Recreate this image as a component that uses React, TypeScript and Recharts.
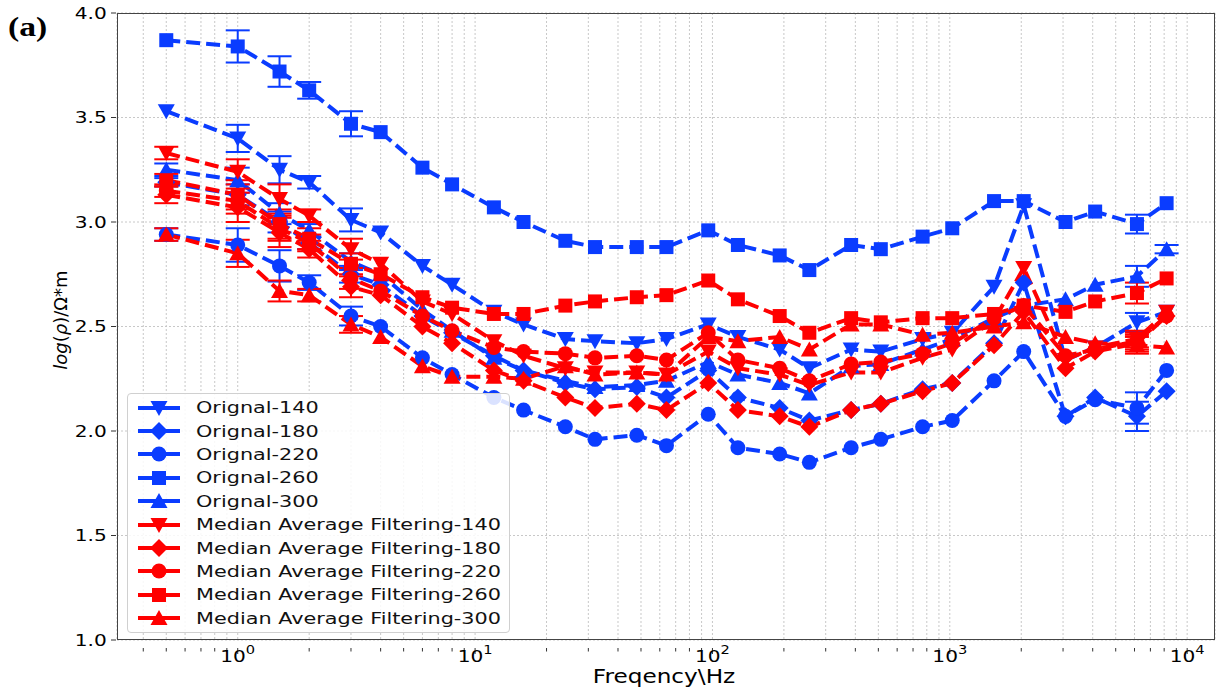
import React from 'react';
import { CartesianGrid, ErrorBar, Line, LineChart, XAxis, YAxis } from 'recharts';

const FREQ = [0.5, 1, 1.5, 2, 3, 4, 6, 8, 12, 16, 24, 32, 48, 64, 96, 128, 192, 256, 384, 512, 768, 1024, 1536, 2048, 3072, 4096, 6144, 8192];

const ORIG_140 = [3.53, 3.4, 3.25, 3.19, 3.01, 2.95, 2.79, 2.7, 2.57, 2.51, 2.44, 2.43, 2.42, 2.44, 2.51, 2.45, 2.39, 2.3, 2.39, 2.38, 2.44, 2.47, 2.69, 3.08, 2.34, 2.4, 2.52, 2.57];
const ORIG_180 = [3.19, 3.13, 3.0, 2.9, 2.75, 2.7, 2.55, 2.47, 2.36, 2.29, 2.23, 2.2, 2.21, 2.16, 2.29, 2.16, 2.11, 2.05, 2.1, 2.13, 2.2, 2.23, 2.42, 2.71, 2.07, 2.16, 2.07, 2.19];
const ORIG_220 = [2.94, 2.89, 2.79, 2.71, 2.55, 2.5, 2.35, 2.27, 2.16, 2.1, 2.02, 1.96, 1.98, 1.93, 2.08, 1.92, 1.89, 1.85, 1.92, 1.96, 2.02, 2.05, 2.24, 2.38, 2.07, 2.15, 2.11, 2.29];
const ORIG_260 = [3.87, 3.84, 3.72, 3.63, 3.47, 3.43, 3.26, 3.18, 3.07, 3.0, 2.91, 2.88, 2.88, 2.88, 2.96, 2.89, 2.84, 2.77, 2.89, 2.87, 2.93, 2.97, 3.1, 3.1, 3.0, 3.05, 2.99, 3.09];
const ORIG_300 = [3.25, 3.2, 3.04, 2.96, 2.81, 2.75, 2.58, 2.48, 2.35, 2.29, 2.24, 2.21, 2.22, 2.24, 2.33, 2.27, 2.23, 2.18, 2.31, 2.32, 2.39, 2.44, 2.54, 2.6, 2.63, 2.7, 2.74, 2.87];
const MAF_140 = [3.33, 3.24, 3.11, 3.03, 2.87, 2.8, 2.62, 2.56, 2.43, 2.36, 2.3, 2.28, 2.28, 2.27, 2.38, 2.3, 2.27, 2.22, 2.28, 2.28, 2.35, 2.39, 2.53, 2.78, 2.34, 2.4, 2.44, 2.57];
const MAF_180 = [3.13, 3.07, 2.95, 2.87, 2.69, 2.65, 2.5, 2.42, 2.29, 2.24, 2.16, 2.11, 2.13, 2.1, 2.23, 2.1, 2.07, 2.02, 2.1, 2.13, 2.19, 2.23, 2.41, 2.57, 2.3, 2.38, 2.42, 2.55];
const MAF_220 = [3.15, 3.1, 2.97, 2.9, 2.73, 2.67, 2.55, 2.48, 2.4, 2.38, 2.37, 2.35, 2.36, 2.34, 2.47, 2.34, 2.3, 2.24, 2.32, 2.33, 2.37, 2.42, 2.54, 2.6, 2.36, 2.39, 2.43, 2.55];
const MAF_260 = [3.2, 3.13, 2.99, 2.92, 2.8, 2.75, 2.64, 2.59, 2.56, 2.56, 2.6, 2.62, 2.64, 2.65, 2.72, 2.63, 2.55, 2.47, 2.54, 2.52, 2.54, 2.54, 2.56, 2.6, 2.57, 2.62, 2.66, 2.73];
const MAF_300 = [2.94, 2.85, 2.67, 2.65, 2.51, 2.45, 2.31, 2.26, 2.26, 2.25, 2.31, 2.27, 2.28, 2.27, 2.45, 2.43, 2.45, 2.39, 2.51, 2.51, 2.46, 2.47, 2.5, 2.52, 2.45, 2.42, 2.41, 2.4];

// error bar half-widths (0 = no visible bar)
const ORIG_140_ERR = [0, 0.065, 0.065, 0.03, 0.055, 0, 0, 0, 0, 0, 0, 0, 0, 0, 0, 0, 0, 0, 0, 0, 0, 0, 0, 0, 0, 0, 0.045, 0];
const ORIG_180_ERR = [0.02, 0.05, 0.05, 0.03, 0.04, 0, 0, 0, 0, 0, 0, 0, 0, 0, 0, 0, 0, 0, 0, 0, 0, 0, 0, 0, 0, 0, 0.07, 0];
const ORIG_220_ERR = [0.03, 0.08, 0.075, 0.035, 0.045, 0, 0, 0, 0, 0, 0, 0, 0, 0, 0, 0, 0, 0, 0, 0, 0, 0, 0, 0, 0, 0, 0.075, 0];
const ORIG_260_ERR = [0, 0.077, 0.073, 0.04, 0.06, 0, 0, 0, 0, 0, 0, 0, 0, 0, 0, 0, 0, 0, 0, 0, 0, 0, 0, 0, 0, 0, 0.045, 0];
const ORIG_300_ERR = [0.03, 0.06, 0.05, 0.03, 0.04, 0, 0, 0, 0, 0, 0, 0, 0, 0, 0, 0, 0, 0, 0, 0, 0, 0, 0, 0, 0, 0, 0.05, 0.02];
const MAF_140_ERR = [0.03, 0.06, 0.07, 0.03, 0.05, 0, 0, 0, 0, 0, 0, 0, 0, 0, 0, 0, 0, 0, 0, 0, 0, 0, 0, 0, 0, 0, 0.04, 0];
const MAF_180_ERR = [0.04, 0.07, 0.07, 0.04, 0.05, 0, 0, 0, 0, 0, 0, 0, 0, 0, 0, 0, 0, 0, 0, 0, 0, 0, 0, 0, 0, 0, 0.04, 0];
const MAF_220_ERR = [0.03, 0.06, 0.06, 0.04, 0.05, 0, 0, 0, 0, 0, 0, 0, 0, 0, 0, 0, 0, 0, 0, 0, 0, 0, 0, 0, 0, 0, 0.04, 0];
const MAF_260_ERR = [0.03, 0.07, 0.07, 0.05, 0.05, 0, 0, 0, 0, 0, 0, 0, 0, 0, 0, 0, 0, 0, 0, 0, 0, 0, 0, 0, 0, 0, 0.05, 0];
const MAF_300_ERR = [0.03, 0.065, 0.05, 0.03, 0.04, 0, 0, 0, 0, 0, 0, 0, 0, 0, 0, 0, 0, 0, 0, 0, 0, 0, 0, 0, 0, 0, 0.04, 0];

const Y_TICKS = [1.0, 1.5, 2.0, 2.5, 3.0, 3.5, 4.0];
const X_TICKS = [
  0.4, 0.5, 0.6, 0.7, 0.8, 0.9,
  1, 2, 3, 4, 5, 6, 7, 8, 9,
  10, 20, 30, 40, 50, 60, 70, 80, 90,
  100, 200, 300, 400, 500, 600, 700, 800, 900,
  1000, 2000, 3000, 4000, 5000, 6000, 7000, 8000, 9000,
  10000,
];

const BLUE = '#0a3cff';
const RED = '#ff0000';
const FONT = '"DejaVu Sans", sans-serif';
// the source figure is stretched sideways, so text is widened to match
const STRETCH = 1.22;

type Shape = 'v' | 'D' | 'o' | 's' | '^';

const SERIES: { key: string; name: string; values: number[]; err: number[]; color: string; shape: Shape }[] = [
  { key: 'o140', name: 'Orignal-140', values: ORIG_140, err: ORIG_140_ERR, color: BLUE, shape: 'v' },
  { key: 'o180', name: 'Orignal-180', values: ORIG_180, err: ORIG_180_ERR, color: BLUE, shape: 'D' },
  { key: 'o220', name: 'Orignal-220', values: ORIG_220, err: ORIG_220_ERR, color: BLUE, shape: 'o' },
  { key: 'o260', name: 'Orignal-260', values: ORIG_260, err: ORIG_260_ERR, color: BLUE, shape: 's' },
  { key: 'o300', name: 'Orignal-300', values: ORIG_300, err: ORIG_300_ERR, color: BLUE, shape: '^' },
  { key: 'm140', name: 'Median Average Filtering-140', values: MAF_140, err: MAF_140_ERR, color: RED, shape: 'v' },
  { key: 'm180', name: 'Median Average Filtering-180', values: MAF_180, err: MAF_180_ERR, color: RED, shape: 'D' },
  { key: 'm220', name: 'Median Average Filtering-220', values: MAF_220, err: MAF_220_ERR, color: RED, shape: 'o' },
  { key: 'm260', name: 'Median Average Filtering-260', values: MAF_260, err: MAF_260_ERR, color: RED, shape: 's' },
  { key: 'm300', name: 'Median Average Filtering-300', values: MAF_300, err: MAF_300_ERR, color: RED, shape: '^' },
];

const data = FREQ.map((f, i) => {
  const row: any = { f };
  SERIES.forEach(s => {
    row[s.key] = s.values[i];
    row[s.key + 'Err'] = s.err[i];
  });
  return row;
});

function Marker({ shape, cx, cy, color }: { shape: Shape; cx: number; cy: number; color: string }) {
  switch (shape) {
    case 's':
      return <rect x={cx - 7} y={cy - 7} width={14} height={14} fill={color} />;
    case 'o':
      return <circle cx={cx} cy={cy} r={7.5} fill={color} />;
    case 'D':
      return <polygon points={`${cx},${cy - 9} ${cx + 9},${cy} ${cx},${cy + 9} ${cx - 9},${cy}`} fill={color} />;
    case 'v':
      return <polygon points={`${cx - 8.5},${cy - 7} ${cx + 8.5},${cy - 7} ${cx},${cy + 8}`} fill={color} />;
    default:
      return <polygon points={`${cx - 8.5},${cy + 7} ${cx + 8.5},${cy + 7} ${cx},${cy - 8}`} fill={color} />;
  }
}

function XTick(props: any) {
  const { x, y, payload } = props;
  const lg = Math.log10(payload.value);
  const major = Math.abs(lg - Math.round(lg)) < 1e-6;
  return (
    <g>
      <line x1={x} x2={x} y1={y} y2={y + (major ? 6 : 3.5)} stroke="#333" strokeWidth={1} />
      {major && (
        <text
          x={x}
          y={y + 14}
          textAnchor="middle"
          fontFamily={FONT}
          fontSize={16.5}
          fill="#000"
          transform={`translate(${x} 0) scale(${STRETCH} 1) translate(${-x} 0)`}
        >
          10
          <tspan dy={-8} fontSize={12}>{Math.round(lg)}</tspan>
        </text>
      )}
    </g>
  );
}

function YTick(props: any) {
  const { x, y, payload } = props;
  return (
    <g>
      <line x1={x + 3} x2={x + 8} y1={y} y2={y} stroke="#333" strokeWidth={1} />
      <text
        x={x - 1}
        y={y + 6}
        textAnchor="end"
        fontFamily={FONT}
        fontSize={16.5}
        fill="#000"
        transform={`translate(${x} 0) scale(${STRETCH} 1) translate(${-x} 0)`}
      >
        {payload.value.toFixed(1)}
      </text>
    </g>
  );
}

export default function App() {
  return (
    <div style={{ position: 'absolute', left: 0, top: 0, width: 1224, height: 689, background: '#fff' }}>
      <LineChart width={1224} height={689} data={data} margin={{ top: 13, right: 9, bottom: 0, left: 0 }}>
        <CartesianGrid stroke="#c8c8c8" strokeDasharray="2 2" />
        <XAxis
          dataKey="f"
          type="number"
          scale="log"
          domain={[0.31, 13100]}
          allowDataOverflow
          ticks={X_TICKS}
          interval={0}
          height={49}
          axisLine={false}
          tickLine={false}
          tick={<XTick />}
        />
        <YAxis
          type="number"
          domain={[1, 4]}
          ticks={Y_TICKS}
          interval={0}
          width={117}
          axisLine={false}
          tickLine={false}
          tickSize={0}
          tickMargin={9}
          tick={<YTick />}
        />
        {SERIES.map(s => (
          <Line
            key={s.key}
            dataKey={s.key}
            name={s.name}
            type="linear"
            stroke={s.color}
            strokeWidth={4}
            strokeDasharray="14 6"
            isAnimationActive={false}
            activeDot={false}
            dot={(p: any) => <Marker key={`${s.key}-${p.index}`} shape={s.shape} cx={p.cx} cy={p.cy} color={s.color} />}
          >
            <ErrorBar dataKey={s.key + 'Err'} width={12} strokeWidth={2} stroke={s.color} direction="y" />
          </Line>
        ))}
      </LineChart>

      {/* axes frame */}
      <div style={{ position: 'absolute', left: 117, top: 13, width: 1098, height: 627, border: '1px solid #444', boxSizing: 'border-box', pointerEvents: 'none' }} />

      <div style={{ position: 'absolute', left: 8, top: 11, fontFamily: '"Liberation Serif", "Times New Roman", serif', fontWeight: 'bold', fontSize: 28, transform: 'scaleX(1.2)', transformOrigin: 'left top' }}>(a)</div>

      <div style={{ position: 'absolute', left: 60, top: 320, transform: 'translate(-50%, -50%) rotate(-90deg)', fontFamily: FONT, fontSize: 18, whiteSpace: 'nowrap' }}>
        <i>log</i>(<i>ρ</i>)/Ω*m
      </div>

      <div style={{ position: 'absolute', left: 664, top: 676, transform: `translate(-50%, -50%) scaleX(${STRETCH})`, fontFamily: FONT, fontSize: 19, lineHeight: '20px', whiteSpace: 'nowrap' }}>
        Freqency\Hz
      </div>

      {/* legend */}
      <div style={{ position: 'absolute', left: 127, top: 393, width: 383, height: 240, background: 'rgba(255,255,255,0.85)', border: '1px solid #d0d0d0', borderRadius: 4, boxSizing: 'border-box', paddingTop: 2 }}>
        {SERIES.map(s => (
          <div key={s.key} style={{ display: 'flex', alignItems: 'center', height: 23.4 }}>
            <svg width={60} height={22} style={{ marginLeft: 8, flex: 'none' }}>
              <line x1={2} x2={44} y1={11} y2={11} stroke={s.color} strokeWidth={4} />
              <Marker shape={s.shape} cx={23} cy={11} color={s.color} />
            </svg>
            <span style={{ display: 'inline-block', fontFamily: FONT, fontSize: 16.5, color: '#111', whiteSpace: 'nowrap', transform: 'scaleX(1.26)', transformOrigin: 'left center' }}>
              {s.name}
            </span>
          </div>
        ))}
      </div>
    </div>
  );
}
